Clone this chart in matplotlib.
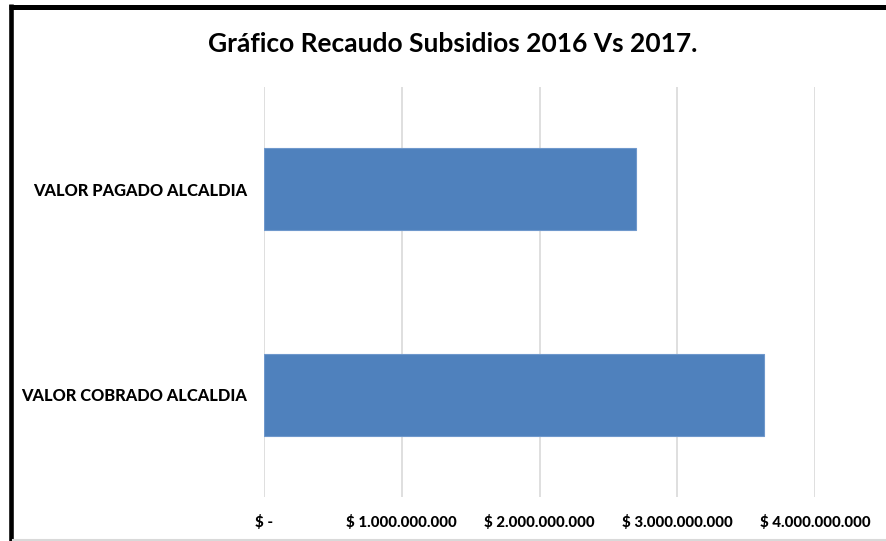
import matplotlib
matplotlib.use("Agg")
import matplotlib.pyplot as plt
from matplotlib.ticker import FuncFormatter
from matplotlib.lines import Line2D

plt.rcParams['font.family'] = ['Lato', 'DejaVu Sans']

# data
categorias = ["VALOR COBRADO ALCALDIA", "VALOR PAGADO ALCALDIA"]
valores = [3630000000, 2700000000]
ticks_x = [0, 1000000000, 2000000000, 3000000000, 4000000000]
titulo = "Gráfico Recaudo Subsidios 2016 Vs 2017."


def pesos(v, pos):
    if v == 0:
        return "$ -"
    return "$ " + "{:,.0f}".format(v).replace(",", ".")


fig = plt.figure(figsize=(8.86, 5.41), dpi=100)
ax = fig.add_axes([264 / 886, 1 - 497 / 541, (815 - 264) / 886, (497 - 87) / 541])

ax.barh(range(len(categorias)), valores, height=0.4,
        color="#4f81bd", edgecolor="#6f98cc", linewidth=0.8, zorder=3)

ax.set_xlim(0, ticks_x[-1])
ax.set_ylim(-0.5, len(categorias) - 0.5)
ax.set_xticks(ticks_x)
ax.xaxis.set_major_formatter(FuncFormatter(pesos))
ax.set_yticks(range(len(categorias)))
ax.set_yticklabels(categorias)

ax.grid(axis="x", color="#d9d9d9", linewidth=1.2, zorder=0)
ax.tick_params(length=0)
ax.tick_params(axis="x", pad=13, labelsize=10.8)
ax.tick_params(axis="y", pad=12, labelsize=11.8)
for lab in ax.get_xticklabels() + ax.get_yticklabels():
    lab.set_fontweight("black")
for s in ax.spines.values():
    s.set_visible(False)

fig.text(453 / 886, 1 - 44 / 541, titulo, ha="center", va="center",
         fontsize=19, fontweight="bold")

# black frame of the chart (left and top visible)
fig.add_artist(Line2D([11 / 886, 11 / 886], [0, 1 - 4 / 541], color="black",
                      linewidth=3.3, solid_capstyle="butt",
                      transform=fig.transFigure))
fig.add_artist(Line2D([9 / 886, 1], [1 - 6.5 / 541, 1 - 6.5 / 541], color="black",
                      linewidth=3.6, solid_capstyle="butt",
                      transform=fig.transFigure))
fig.add_artist(Line2D([13 / 886, 1], [1.5 / 541, 1.5 / 541], color="#d9d9d9",
                      linewidth=1.5, transform=fig.transFigure))

fig.savefig("out.png", dpi=100)
